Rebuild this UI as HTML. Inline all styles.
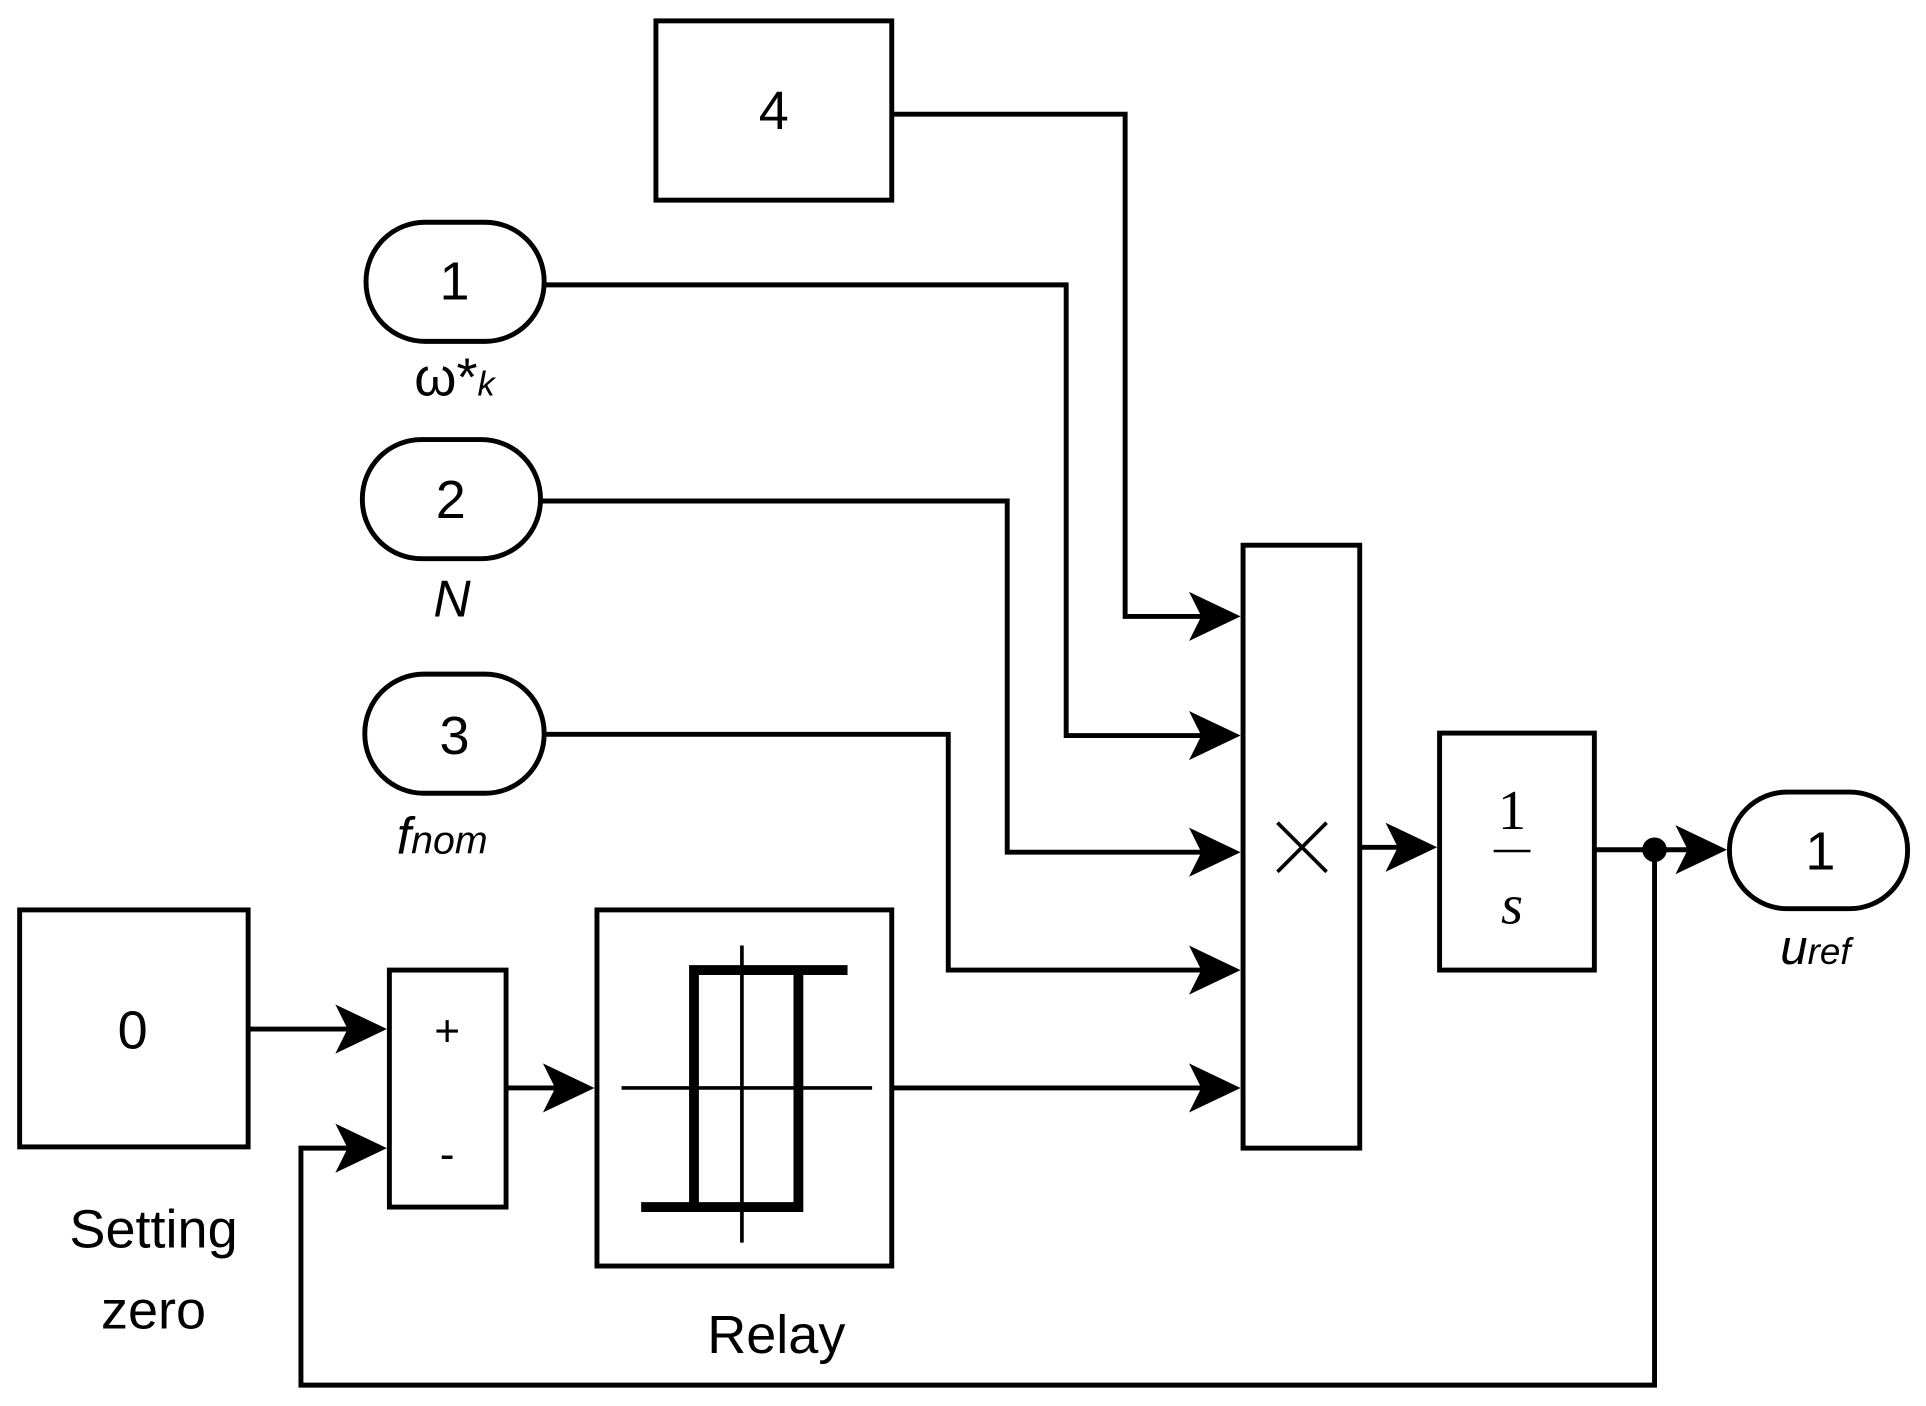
<!DOCTYPE html>
<html><head><meta charset="utf-8"><style>html,body{margin:0;padding:0;background:#fff}svg{display:block}</style></head><body>
<svg width="1926" height="1406" viewBox="0 0 1568 1145" preserveAspectRatio="none" xmlns="http://www.w3.org/2000/svg">
<defs>
<g id="ar"><polygon points="-42,-20 0,0 -42,20 -32,0" fill="#000"/></g>
</defs>
<g fill="none" stroke="#000" stroke-width="4">
<rect x="534" y="17" width="192" height="146"/>
<rect x="298" y="181" width="145" height="97" rx="48"/>
<rect x="295" y="358" width="145" height="97" rx="48"/>
<rect x="297" y="549" width="146" height="97" rx="48"/>
<rect x="1012" y="444" width="95" height="491"/>
<rect x="1172" y="597" width="126" height="193"/>
<rect x="1408" y="645" width="145" height="95" rx="47"/>
<rect x="16" y="741" width="186" height="193"/>
<rect x="317" y="790" width="95" height="193"/>
<rect x="486" y="741" width="240" height="290"/>
<polyline points="726,93 916,93 916,502 1000,502"/>
<polyline points="443,232 868,232 868,599 1000,599"/>
<polyline points="440,408 820,408 820,694 1000,694"/>
<polyline points="443,598 772,598 772,790 1000,790"/>
<polyline points="726,886 1000,886"/>
<polyline points="1107,690 1162,690"/>
<polyline points="1298,692 1398,692"/>
<polyline points="1347,692 1347,1128 245,1128 245,935 306,935"/>
<polyline points="202,838 306,838"/>
<polyline points="412,886 476,886"/>
<line x1="506" y1="886" x2="710" y2="886" stroke-width="3"/>
<line x1="604" y1="770" x2="604" y2="1012" stroke-width="3"/>
<polyline points="690,790 565,790 565,983" stroke-width="8"/>
<polyline points="522,983 650,983 650,790" stroke-width="8"/>
<line x1="1040" y1="670" x2="1080" y2="710" stroke-width="3"/>
<line x1="1080" y1="670" x2="1040" y2="710" stroke-width="3"/>
<line x1="1216" y1="693" x2="1246" y2="693" stroke-width="2"/>
</g>
<circle cx="1347" cy="692" r="10" fill="#000"/>
<use href="#ar" x="1010" y="502"/><use href="#ar" x="1010" y="599"/><use href="#ar" x="1010" y="694"/>
<use href="#ar" x="1010" y="790"/><use href="#ar" x="1010" y="886"/><use href="#ar" x="1170" y="690"/>
<use href="#ar" x="1406" y="692"/><use href="#ar" x="315" y="838"/><use href="#ar" x="315" y="935"/>
<use href="#ar" x="484" y="886"/>
<g font-family="Liberation Sans, sans-serif" font-size="44" text-anchor="middle">
<text x="630" y="105">4</text>
<text x="370" y="244">1</text>
<text x="367" y="422">2</text>
<text x="370" y="614">3</text>
<text x="1482" y="708">1</text>
<text x="108" y="854">0</text>
<text x="364" y="852" font-size="36">+</text>
<text x="364" y="952" font-size="36">-</text>
<text x="125" y="1016" font-size="44">Setting</text>
<text x="125" y="1082" font-size="44">zero</text>
<text x="632" y="1102" font-size="44">Relay</text>
<text x="370" y="322" font-size="44">ω*<tspan font-size="28" font-style="italic">k</tspan></text>
<text x="368" y="502" font-size="42" font-style="italic">N</text>
<text x="360" y="695" font-size="42" font-style="italic">f<tspan font-size="32">nom</tspan></text>
<text x="1478" y="785" font-size="40" font-style="italic">u<tspan font-size="30">ref</tspan></text>
</g>
<g font-family="Liberation Serif, serif" font-size="46" text-anchor="middle">
<text x="1231" y="675">1</text>
<text x="1231" y="752" font-style="italic">s</text>
</g>
</svg>
</body></html>
